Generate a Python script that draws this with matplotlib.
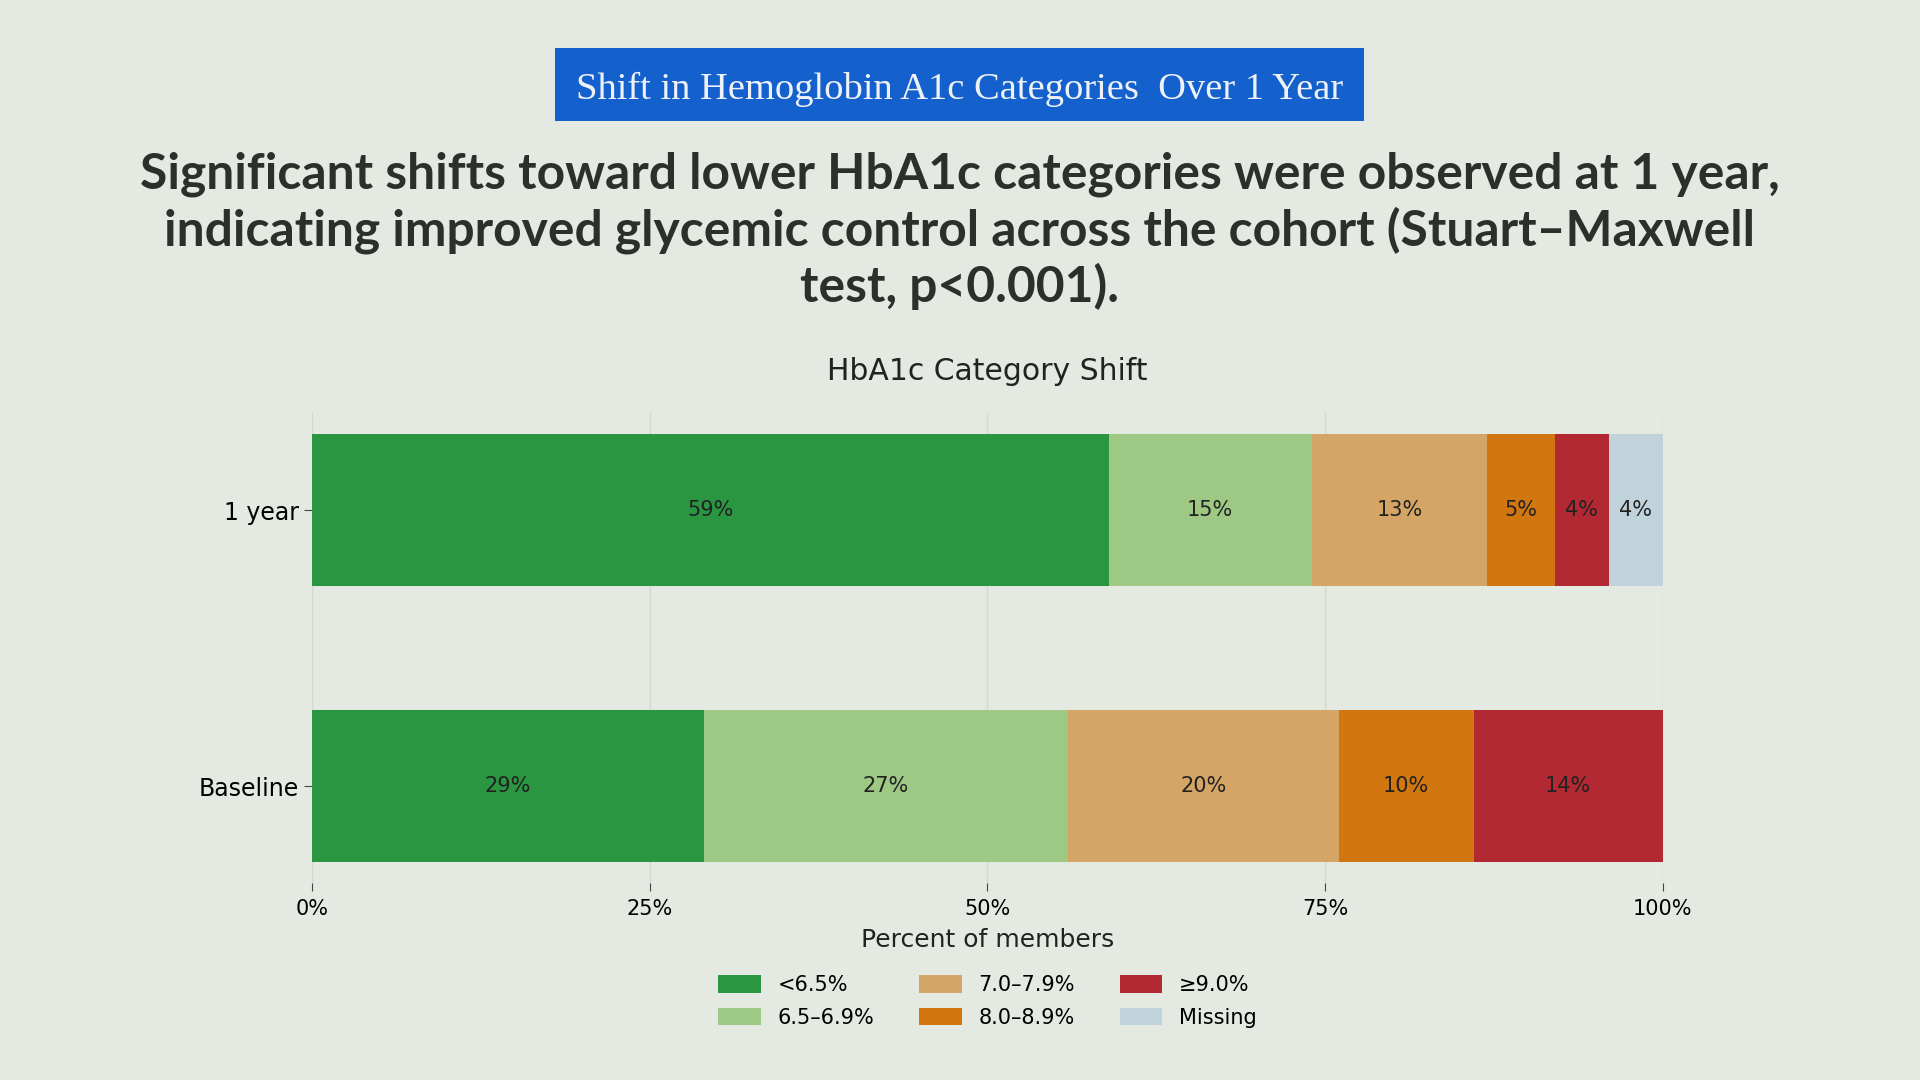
import matplotlib.pyplot as plt
from matplotlib.patches import Rectangle

groups = ["Baseline", "1 year"]
categories = ["<6.5%", "6.5–6.9%", "7.0–7.9%", "8.0–8.9%", "≥9.0%", "Missing"]
baseline = [29, 27, 20, 10, 14, 0]
one_year = [59, 15, 13, 5, 4, 4]
colors = ["#2a9641", "#9ec985", "#d5a565", "#d2770f", "#b22934", "#c1d3da"]
x_ticks = [0, 25, 50, 75, 100]
x_tick_labels = ["0%", "25%", "50%", "75%", "100%"]

bg = "#e4e9e2"

fig = plt.figure(figsize=(19.2, 10.8), dpi=100, facecolor=bg)
ax = fig.add_axes([0.1625, 0.182, 0.7035, 0.4356], facecolor=bg)

values = [baseline, one_year]
left = [0, 0]
for i, cat in enumerate(categories):
    widths = [v[i] for v in values]
    bars = ax.barh(groups, widths, left=left, height=0.55, color=colors[i],
                   label=cat, zorder=3)
    for b, w in zip(bars, widths):
        if w > 0:
            ax.text(b.get_x() + w / 2, b.get_y() + b.get_height() / 2, f"{w}%",
                    ha="center", va="center", fontsize=15, color="#222222", zorder=4)
    left = [l + w for l, w in zip(left, widths)]

ax.set_xlim(0, 100)
ax.set_xticks(x_ticks)
ax.set_xticklabels(x_tick_labels)
ax.tick_params(axis="x", labelsize=15, length=6, color="#444444", pad=5)
ax.tick_params(axis="y", labelsize=17, length=6, color="#444444")
ax.grid(axis="x", color="#d3d8d2", linewidth=1, zorder=0)
for s in ax.spines.values():
    s.set_visible(False)
ax.set_xlabel("Percent of members", fontsize=18, color="#222222", labelpad=7)
ax.set_title("HbA1c Category Shift", fontsize=21.5, color="#222222", pad=24)

ax.legend(loc="upper center", bbox_to_anchor=(0.5, -0.155), ncol=3, frameon=False,
          fontsize=15, handlelength=2.05, handleheight=0.9, columnspacing=2.15,
          labelspacing=0.6)

# header banner
fig.patches.append(Rectangle((555 / 1920, 1 - 121 / 1080), 809 / 1920, 73 / 1080,
                             transform=fig.transFigure, facecolor="#1460cc",
                             edgecolor="none"))
fig.text(0.5, 1 - 89 / 1080, "Shift in Hemoglobin A1c Categories  Over 1 Year",
         ha="center", va="center", fontsize=27.7, color="#eef2f8",
         family="Liberation Serif")

fig.text(0.5, 1 - 231 / 1080,
         "Significant shifts toward lower HbA1c categories were observed at 1 year,\n"
         "indicating improved glycemic control across the cohort (Stuart–Maxwell\n"
         "test, p<0.001).",
         ha="center", va="center", fontsize=35.8, fontweight="bold", color="#2b302d",
         family="Lato", linespacing=1.23)

fig.savefig("out.png", dpi=100, facecolor=bg)
